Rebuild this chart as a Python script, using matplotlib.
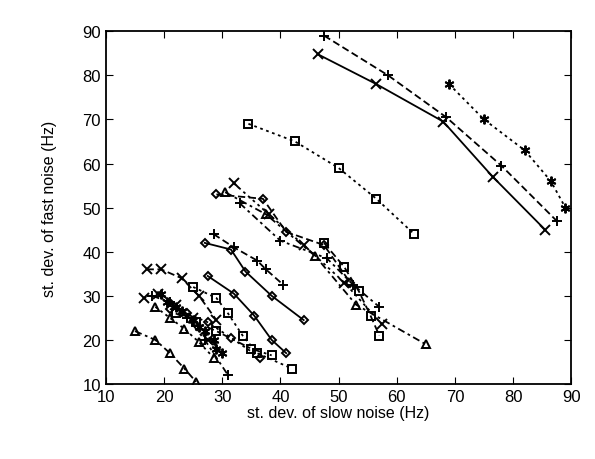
import matplotlib
matplotlib.use("Agg")
import matplotlib.pyplot as plt

plt.rcParams['font.family'] = ['Liberation Sans', 'DejaVu Sans']

# (marker, linestyle, x values, y values)
series = [
    ('x', '-',  [46.4, 56.5, 68.0, 76.5, 85.5], [84.8, 78.0, 69.5, 57.0, 45.0]),
    ('+', '--', [47.5, 58.5, 68.5, 78.0, 87.5], [89.0, 80.0, 70.5, 59.5, 47.0]),
    ('*', ':',  [69.0, 75.0, 82.0, 86.5, 89.0], [78.0, 70.0, 63.0, 56.0, 50.0]),
    ('s', ':',  [34.5, 42.5, 50.0, 56.5, 63.0], [69.0, 65.0, 59.0, 52.0, 44.0]),
    ('D', '--', [29.0, 37.0, 41.0, 47.5, 52.0], [53.0, 52.0, 44.5, 41.5, 33.0]),
    ('^', '-.', [30.5, 37.5, 46.0, 53.0, 65.0], [53.5, 48.5, 39.0, 28.0, 19.0]),
    ('x', ':',  [32.0, 38.0, 44.0, 51.0, 57.5], [55.5, 48.5, 41.5, 33.0, 23.5]),
    ('+', '-.', [33.0, 40.0, 48.0, 52.5, 57.0], [51.0, 42.5, 38.5, 32.5, 27.5]),
    ('s', '--', [47.5, 51.0, 53.5, 55.5, 57.0], [42.0, 36.5, 31.0, 25.5, 21.0]),
    ('D', '-',  [27.0, 31.5, 34.0, 38.5, 44.0], [42.0, 40.5, 35.5, 30.0, 24.5]),
    ('+', '--', [28.5, 32.0, 36.0, 37.5, 40.5], [44.0, 41.0, 38.0, 36.0, 32.5]),
    ('D', '-',  [27.5, 32.0, 35.5, 38.5, 41.0], [34.5, 30.5, 25.5, 20.0, 17.0]),
    ('x', '--', [17.0, 19.5, 23.0, 26.0, 29.0], [36.0, 36.0, 34.0, 30.0, 24.5]),
    ('s', ':',  [25.0, 29.0, 31.0, 33.5, 36.0, 42.0], [32.0, 29.5, 26.0, 21.0, 17.0, 13.5]),
    ('^', '-.', [15.0, 18.5, 21.0, 23.5, 25.5], [22.0, 20.0, 17.0, 13.5, 10.5]),
    ('x', ':',  [16.5, 19.0, 22.0, 25.0, 27.5], [29.5, 30.5, 28.0, 25.0, 20.0]),
    ('+', '-.', [18.0, 21.0, 24.0, 27.0, 31.0], [30.0, 28.5, 25.0, 20.0, 12.0]),
    ('*', '--', [19.5, 22.0, 25.0, 27.0, 29.0], [30.5, 27.5, 24.5, 22.0, 18.0]),
    ('^', ':',  [18.5, 21.0, 23.5, 26.0, 28.5], [27.5, 25.0, 22.5, 19.5, 16.0]),
    ('D', ':',  [21.0, 24.0, 27.5, 31.5, 36.5], [27.0, 26.0, 24.0, 20.5, 16.0]),
    ('s', '-.', [22.0, 25.5, 29.0, 35.0, 38.5], [26.0, 24.0, 22.0, 18.0, 16.5]),
    ('*', ':',  [20.5, 23.0, 26.0, 28.5, 30.0], [28.5, 26.5, 23.0, 20.0, 17.0]),
]

marker_map = {'*': (6, 2, 0)}
marker_size = {'x': 7, '+': 7, '*': 7, 's': 6, 'D': 4.5, '^': 5.5}
dash_map = {'-': '-', '--': (0, (4, 2)), ':': (0, (1.5, 2)), '-.': (0, (4, 2, 1.5, 2))}

fig = plt.figure(figsize=(5.95, 4.6), dpi=100)
ax = fig.add_axes([0.178, 0.163, 0.782, 0.767])
for m, ls, xs, ys in series:
    ax.plot(xs, ys, color='black', linestyle=dash_map[ls], linewidth=1.3,
            marker=marker_map.get(m, m), markersize=marker_size[m],
            markerfacecolor='none', markeredgecolor='black', markeredgewidth=1.4)

ax.set_xlim(10, 90)
ax.set_ylim(10, 90)
ax.set_xticks(range(10, 91, 10))
ax.set_yticks(range(10, 91, 10))
ax.tick_params(direction='in', top=True, right=True, labelsize=12, length=5)
for s in ax.spines.values():
    s.set_linewidth(1.3)
ax.set_xlabel('st. dev. of slow noise (Hz)', fontsize=11.5, labelpad=1)
ax.set_ylabel('st. dev. of fast noise (Hz)', fontsize=11.5, labelpad=18)
fig.savefig('out.png', dpi=100)
